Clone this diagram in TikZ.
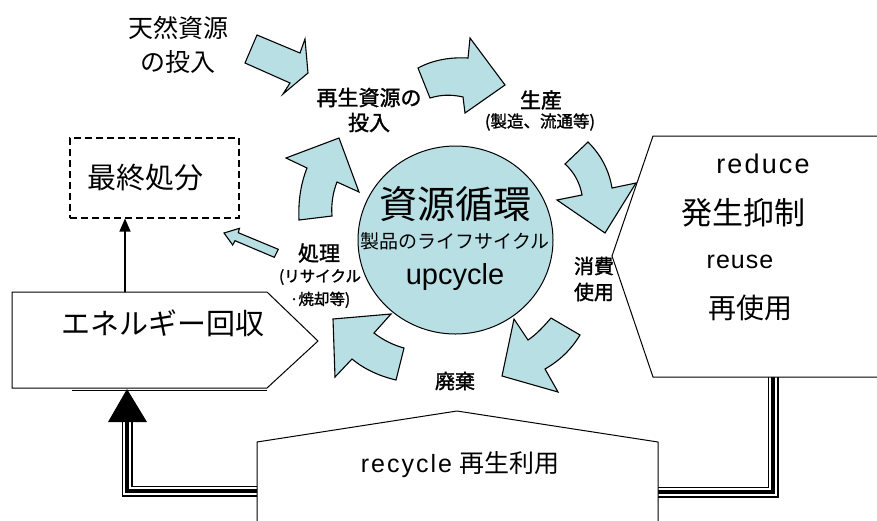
\documentclass[tikz,border=0pt]{standalone}
\usepackage{fontspec}
\setmainfont{Liberation Sans}
\newfontfamily\jp{Noto Sans CJK JP}
\newfontfamily\jpb[FakeBold=1.5]{Noto Sans CJK JP}
\newfontfamily\lspA[LetterSpace=8]{Liberation Sans}
\newfontfamily\lspB[LetterSpace=4]{Liberation Sans}
\usetikzlibrary{arrows.meta,shapes.geometric}
\definecolor{cyc}{RGB}{184,223,227}
\tikzset{
  blk/.style={fill=cyc,draw=black,line width=1.1pt,line join=miter},
  boxline/.style={draw=black,line width=1pt,fill=white,line join=miter},
  trip/.style={line width=3.4pt,black,
    preaction={draw,black,line width=11pt},
    preaction={draw,white,line width=7.6pt}},
  thinarrow/.style={line width=1.2pt,-{Triangle[length=13pt,width=11pt]}},
  lbl/.style={inner sep=0pt,align=center}
}
\begin{document}
\begin{tikzpicture}[x=1pt,y=-1pt]
\path[use as bounding box] (0,0) rectangle (877,520);
\clip (0,0) rectangle (877,520);

% coordinates for connectors
\coordinate (eneTop) at (125,292);
\coordinate (tri) at (127,422);
\coordinate (recL) at (257,491);
\coordinate (recR) at (658,492);
\coordinate (redB) at (773,377);

% triple lines
\draw[trip] (tri) |- (recL);
\draw[trip] (recR) -| (redB);

% recycle box
\draw[boxline] (257,530) -- (257,442) -- (457,411) -- (658,442) -- (658,530);
\node[lbl] (rec) at (460,465) {{\lspA\fontsize{25}{30}\selectfont recycle\hspace{7pt}}{\jp\fontsize{25}{30}\selectfont 再生利用}};

% reduce box
\draw[boxline] (890,136) -- (653,136) -- (612,256) -- (653,377) -- (890,377);
\node[lbl,font=\lspA\fontsize{27}{30}\selectfont] (red) at (763,164) {reduce};
\node[lbl,font=\jp\fontsize{31}{36}\selectfont] (hassei) at (743,213) {発生抑制};
\node[lbl,font=\lspB\fontsize{25}{30}\selectfont] (reu) at (740,262) {reuse};
\node[lbl,font=\jp\fontsize{28}{34}\selectfont] (saishiyo) at (750,308) {再使用};

% energy box
\draw[boxline] (12,292) -- (267,292) -- (318,341) -- (267,388) -- (12,388) -- cycle;
\draw[line width=1.4pt] (72,390.5) -- (267,390.5);
\node[lbl,font=\jp\fontsize{29}{34}\selectfont] (ene) at (163,323) {エネルギー回収};

% big triangle head
\fill (127,389) -- (147,422) -- (108,422) -- cycle;

% final disposal
\node[draw,dash pattern=on 7pt off 4pt,line width=1.1pt,minimum width=169pt,minimum height=80pt,inner sep=0pt,
  font=\jp\fontsize{29}{34}\selectfont] (final) at (154.5,178) {最終処分\hspace*{18pt}};
\draw[thinarrow] (eneTop) -- (eneTop |- final.south);

% circle
\node[ellipse,fill=cyc,draw=black,line width=1pt,minimum width=195pt,minimum height=188pt] (cyc) at (455.5,240) {};
\node[lbl,font=\jp\fontsize{38}{40}\selectfont] (shigen) at (455,204) {資源循環};
\node[lbl,font=\jp\fontsize{19}{22}\selectfont] (seihin) at (455,241) {製品のライフサイクル};
\node[lbl,font=\fontsize{29}{32}\selectfont] (upc) at (455,277) {upcycle};

% block arrows
\draw[blk] (245,63) -- (257,35) -- (300,53) -- (305,39) -- (308,73) -- (283,94) -- (290,83) -- cycle;
\draw[blk] (418,68) .. controls (433,60) and (450,57) .. (468,58) -- (470,38) -- (505,85) -- (465,113) -- (463,97) .. controls (450,94) and (440,95) .. (430,98) -- cycle;
\draw[blk] (565,164) -- (588,142) .. controls (601,155) and (609,170) .. (612,188) -- (636,183) -- (605,233) -- (557,200) -- (582,195) .. controls (580,183) and (574,172) .. (565,164) -- cycle;
\draw[blk] (514,319) -- (528,340) .. controls (537,334) and (544,326) .. (551,318) -- (580,335) .. controls (571,350) and (559,361) .. (545,369) -- (558,392) -- (502,376) -- cycle;
\draw[blk] (333,319) -- (391,314) -- (374,333) .. controls (383,340) and (393,345) .. (404,348) -- (396,380) .. controls (379,376) and (364,369) .. (352,359) -- (335,377) -- cycle;
\draw[blk] (286,158) -- (339,138) -- (359,192) -- (337,182) .. controls (333,192) and (331,204) .. (332,216) -- (299,220) .. controls (298,201) and (301,183) .. (307,168) -- cycle;
\draw[blk] (224,233) -- (239.5,228.3) -- (238.3,232.7) -- (278.3,249.3) -- (274.3,257.3) -- (235,240.7) -- (232.7,245) -- cycle;

% labels
\node[lbl,font=\jp\fontsize{25}{34}\selectfont] (nat) at (178,45) {天然資源\\の投入};
\node[lbl,font=\jpb\fontsize{21}{25}\selectfont] (rin) at (369,110) {再生資源の\\投入};
\node[lbl,font=\jpb\fontsize{21}{24}\selectfont] (prod) at (541,100) {生産};
\node[lbl,font=\jpb\fontsize{16.5}{18}\selectfont] (prod2) at (540,122) {(製造、流通等)};
\node[lbl,font=\jpb\fontsize{20}{26}\selectfont] (cons) at (594,279) {消費\\使用};
\node[lbl,font=\jpb\fontsize{20}{24}\selectfont] (haiki) at (455,381) {廃棄};
\node[lbl,font=\jpb\fontsize{21}{24}\selectfont] (shori) at (319,253) {処理};
\node[lbl,font=\jpb\fontsize{15.5}{23}\selectfont] (shori2) at (320,288.5) {(リサイクル\\·焼却等)};
\end{tikzpicture}
\end{document}
